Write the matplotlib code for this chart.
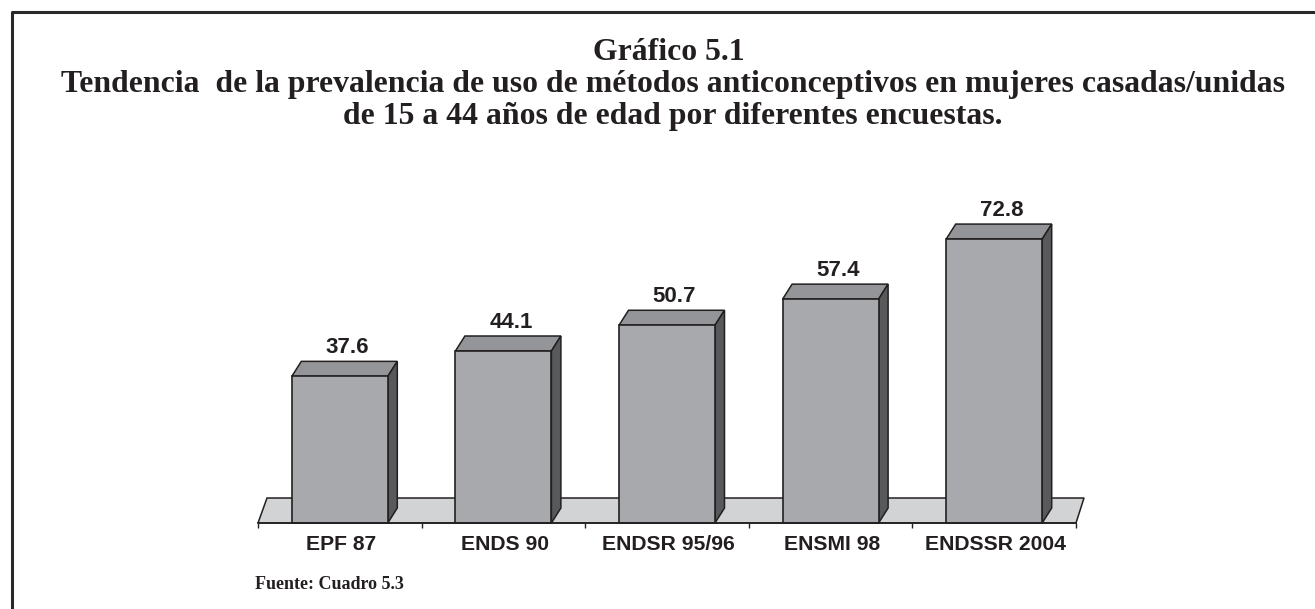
import matplotlib
matplotlib.use('Agg')
import matplotlib.pyplot as plt
from matplotlib.patches import Polygon

# datos del grafico
encuestas = ['EPF 87', 'ENDS 90', 'ENDSR 95/96', 'ENSMI 98', 'ENDSSR 2004']
prevalencia = [37.6, 44.1, 50.7, 57.4, 72.8]

titulo = ['Gráfico 5.1',
          'Tendencia  de la prevalencia de uso de métodos anticonceptivos en mujeres casadas/unidas',
          'de 15 a 44 años de edad por diferentes encuestas.']
fuente = 'Fuente: Cuadro 5.3'

W, H = 1315, 609
TINTA = '#231f20'
SERIF = 'Liberation Serif'
SANS = 'Liberation Sans'

fig = plt.figure(figsize=(W / 100, H / 100), dpi=100)
ax = fig.add_axes([258 / W, (H - 523) / H, 818 / W, 312 / H])
ax.set_xlim(0, 5)
ax.set_ylim(0, 80)
ax.patch.set_visible(False)

ancho = 96 / 163.6
dx = 9.5 / 163.6
dy = 15 / 3.9

# piso
piso = Polygon([(0, 0), (5, 0), (5 + 8 / 163.6, 25 / 3.9), (9 / 163.6, 25 / 3.9)],
               closed=True, fc='#d1d3d4', ec=TINTA, lw=1.1, clip_on=False, zorder=1)
ax.add_patch(piso)

# barras con efecto 3D
for i, v in enumerate(prevalencia):
    x0 = i + 0.5 - ancho / 2
    x1 = x0 + ancho
    ax.bar(i + 0.5, v, width=ancho, color='#a7a9ac', edgecolor=TINTA, linewidth=1.2,
           clip_on=False, zorder=3)
    ax.add_patch(Polygon([(x0, v), (x1, v), (x1 + dx, v + dy), (x0 + dx, v + dy)],
                         closed=True, fc='#939598', ec=TINTA, lw=1.1, clip_on=False, zorder=2))
    ax.add_patch(Polygon([(x1, 0), (x1, v), (x1 + dx, v + dy), (x1 + dx, dy)],
                         closed=True, fc='#58595b', ec=TINTA, lw=1.1, clip_on=False, zorder=2))
    ax.annotate(f'{v:.1f}', (i + 0.5 + dx / 2, v + dy), xytext=(2, 2.5), textcoords='offset points',
                ha='center', va='bottom', fontsize=16, fontweight='bold', family=SANS, color=TINTA)

for s in ['top', 'left', 'right']:
    ax.spines[s].set_visible(False)
ax.spines['bottom'].set_color(TINTA)
ax.spines['bottom'].set_linewidth(1.2)
ax.spines['bottom'].set_zorder(4)
ax.set_yticks([])
ax.set_xticks(range(6))
ax.set_xticklabels([])
ax.tick_params(axis='x', length=3.5, width=1, color=TINTA)
for i, e in enumerate(encuestas):
    ax.annotate(e, (i + 0.5, 0), xytext=(1, -9), textcoords='offset points', ha='center', va='top',
                fontsize=15.2, fontweight='bold', family=SANS, color=TINTA)

# marco, solo izquierda y arriba
fig.add_artist(plt.Line2D([12 / W, 12 / W, 1], [0, 1 - 12 / H, 1 - 12 / H], color='#2b2829', lw=2.2))

# titulo
for x, y, t in zip([669, 673, 673], [60, 92, 124], titulo):
    fig.text(x / W, 1 - y / H, t, ha='center', va='baseline', fontsize=22.9, fontweight='bold',
             family=SERIF, color=TINTA)
fig.text(255 / W, 1 - 589 / H, fuente, ha='left', va='baseline', fontsize=13, fontweight='bold',
         family=SERIF, color=TINTA)

fig.savefig('out.png', dpi=100)
